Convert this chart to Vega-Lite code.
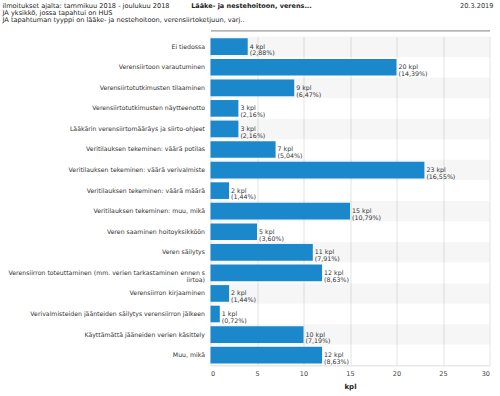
{
  "$schema": "https://vega.github.io/schema/vega-lite/v6.json",
  "width": 279,
  "height": 329,
  "autosize": "none",
  "padding": {"left": 210.5, "top": 36.4, "right": 10.5, "bottom": 30.6},
  "background": "white",
  "config": {"font": "DejaVu Sans", "view": {"stroke": null}},
  "data": {"values": [
    {"kategoria": "Ei tiedossa", "kpl": 4, "osuus": "2,88%"},
    {"kategoria": "Verensiirtoon varautuminen", "kpl": 20, "osuus": "14,39%"},
    {"kategoria": "Verensiirtotutkimusten tilaaminen", "kpl": 9, "osuus": "6,47%"},
    {"kategoria": "Verensiirtotutkimusten näytteenotto", "kpl": 3, "osuus": "2,16%"},
    {"kategoria": "Lääkärin verensiirtomääräys ja siirto-ohjeet", "kpl": 3, "osuus": "2,16%"},
    {"kategoria": "Veritilauksen tekeminen: väärä potilas", "kpl": 7, "osuus": "5,04%"},
    {"kategoria": "Veritilauksen tekeminen: väärä verivalmiste", "kpl": 23, "osuus": "16,55%"},
    {"kategoria": "Veritilauksen tekeminen: väärä määrä", "kpl": 2, "osuus": "1,44%"},
    {"kategoria": "Veritilauksen tekeminen: muu, mikä", "kpl": 15, "osuus": "10,79%"},
    {"kategoria": "Veren saaminen hoitoyksikköön", "kpl": 5, "osuus": "3,60%"},
    {"kategoria": "Veren säilytys", "kpl": 11, "osuus": "7,91%"},
    {"kategoria": "Verensiirron toteuttaminen (mm. verien tarkastaminen ennen siirtoa)", "kpl": 12, "osuus": "8,63%"},
    {"kategoria": "Verensiirron kirjaaminen", "kpl": 2, "osuus": "1,44%"},
    {"kategoria": "Verivalmisteiden jäänteiden säilytys verensiirron jälkeen", "kpl": 1, "osuus": "0,72%"},
    {"kategoria": "Käyttämättä jääneiden verien käsittely", "kpl": 10, "osuus": "7,19%"},
    {"kategoria": "Muu, mikä", "kpl": 12, "osuus": "8,63%"}
  ]},
  "resolve": {"axis": {"x": "independent", "y": "independent"}},
  "layer": [
    {
      "transform": [
        {"window": [{"op": "row_number", "as": "rivi"}]}
      ],
      "mark": {"type": "rect", "color": "#000000"},
      "encoding": {
        "y": {"field": "kategoria", "type": "nominal", "sort": null, "axis": null,
              "scale": {"paddingInner": 0, "paddingOuter": 0}},
        "x": {"datum": 0, "type": "quantitative",
              "axis": {"orient": "bottom", "values": [0, 5, 10, 15, 20, 25, 30],
                       "grid": true, "gridColor": "#e4e4e4", "ticks": false,
                       "domain": true, "domainColor": "#dddddd",
                       "labelFontSize": 6.5, "labelColor": "#444444", "labelPadding": 5,
                       "title": "kpl", "titleFontSize": 7, "titleFontWeight": "bold",
                       "titleColor": "#222222", "titlePadding": 6}},
        "x2": {"datum": 30},
        "opacity": {"condition": {"test": "datum.rivi % 2 == 1", "value": 0.035}, "value": 0}
      }
    },
    {
      "mark": {"type": "bar", "color": "#1b88cc", "height": {"band": 0.81}},
      "encoding": {
        "y": {"field": "kategoria", "type": "nominal", "sort": null,
              "axis": {"orient": "left", "ticks": false, "domain": false, "grid": false,
                       "labelFontSize": 6.2, "labelColor": "#333333", "labelPadding": 6,
                       "labelLimit": 260, "labelLineHeight": 6.9, "title": null,
                       "labelExpr": "length(datum.label) > 60 ? [substring(datum.label, 0, 60), substring(datum.label, 60)] : datum.label"}},
        "x": {"field": "kpl", "type": "quantitative",
              "scale": {"domain": [0, 30], "nice": false},
              "axis": {"orient": "top", "labels": false, "ticks": false, "domain": false, "grid": false,
                       "title": ["ilmoitukset ajalta: tammikuu 2018 - joulukuu 2018", "JA yksikkö, jossa tapahtui on HUS", "JA tapahtuman tyyppi on lääke- ja nestehoitoon, verensiirtoketjuun, varj.."],
                       "titleX": -208.5, "titleY": -33.5, "titleAlign": "left", "titleAnchor": null,
                       "titleBaseline": "top", "titleFontSize": 6.6, "titleFontWeight": "normal",
                       "titleColor": "#222222", "titleLineHeight": 6.8, "titleAngle": 0}}
      }
    },
    {
      "transform": [
        {"calculate": "datum.kpl + ' kpl\\n(' + datum.osuus + ')'", "as": "teksti"}
      ],
      "mark": {"type": "text", "align": "left", "baseline": "middle", "dx": 2,
               "fontSize": 6.3, "lineBreak": "\n", "lineHeight": 6.8, "color": "#333333"},
      "encoding": {
        "y": {"field": "kategoria", "type": "nominal", "sort": null,
              "axis": {"orient": "right", "labels": false, "ticks": false, "domain": false, "grid": false,
                       "title": "20.3.2019", "titleAngle": 0, "titleX": 3.5, "titleY": -33.5,
                       "titleAlign": "right", "titleBaseline": "top", "titleFontSize": 6.6,
                       "titleFontWeight": "normal", "titleColor": "#333333"}},
        "x": {"field": "kpl", "type": "quantitative",
              "axis": {"orient": "top", "labels": false, "ticks": false, "grid": false,
                       "domain": true, "domainColor": "#9a9a9a", "domainWidth": 1.2, "offset": 6,
                       "title": "Lääke- ja nestehoitoon, verens...", "titleX": -19.8, "titleY": -27.5,
                       "titleAlign": "left", "titleAnchor": null, "titleBaseline": "top",
                       "titleFontSize": 6.5, "titleFontWeight": "bold", "titleColor": "#222222", "titleAngle": 0}},
        "text": {"field": "teksti", "type": "nominal"}
      }
    }
  ]
}
